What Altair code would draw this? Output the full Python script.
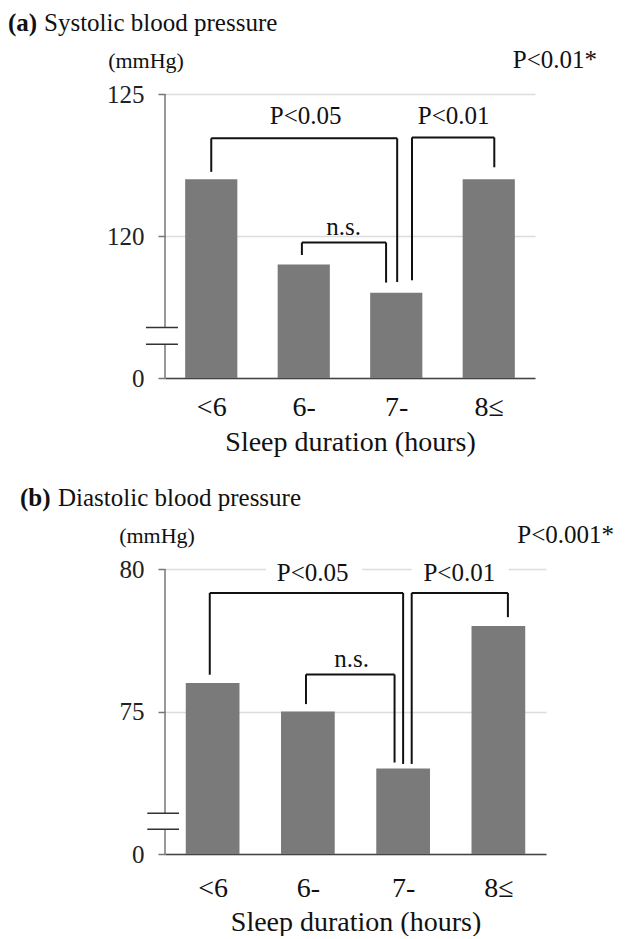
import json
import altair as alt
import pandas as pd

# ---- data ----
categories = ["<6", "6-", "7-", "8≤"]
sbp_values = [122.0, 119.0, 118.0, 122.0]
dbp_values = [76.0, 75.0, 73.0, 78.0]

overall_p = ["P<0.01*", "P<0.001*"]

# brackets: left x, right x, top y, left-leg bottom y, right-leg bottom y (data units)
sbp_brackets = {
    "xl": [0.00, 2.17, 0.98],
    "xr": [2.01, 3.06, 1.89],
    "yt": [123.44, 123.47, 119.77],
    "ylb": [122.26, 118.44, 119.33],
    "yrb": [118.38, 122.42, 118.36],
}
sbp_labels = {"text": ["P<0.05", "P<0.01", "n.s."],
              "x": [1.02, 2.62, 1.43], "y": [124.22, 124.22, 120.32]}

dbp_brackets = {
    "xl": [-0.03, 2.09, 0.98],
    "xr": [2.00, 3.10, 1.91],
    "yt": [79.16, 79.16, 76.30],
    "ylb": [76.29, 73.16, 75.26],
    "yrb": [73.16, 78.31, 73.21],
}
dbp_labels = {"text": ["P<0.05", "P<0.01", "n.s."],
              "x": [1.05, 2.59, 1.46], "y": [79.86, 79.86, 76.84]}
dbp_boxes = {"x": [0.56, 2.09], "x2": [1.57, 3.11], "y": [80.35, 80.35], "y2": [79.40, 79.40]}

FONT = "Liberation Serif"
label_expr_x = json.dumps(categories) + "[datum.value]"


def panel(values, lo, mid, hi, brackets, labels, boxes, break_y, break_x,
          width, height, letter, name, p_text, title_x, name_x, mm_x, p_x,
          x_label_pad, x_title_pad):
    df = pd.DataFrame({"cat": categories, "idx": list(range(len(categories))), "v": values})
    xs = alt.Scale(domain=[-0.5, 3.5], nice=False, zero=False)
    ys = alt.Scale(domain=[lo, hi], nice=False, zero=False)

    bars = alt.Chart(df).transform_calculate(
        x0="datum.idx - 0.282", x1="datum.idx + 0.282"
    ).mark_bar(color="#7a7a7a").encode(
        x=alt.X("x0:Q", scale=xs, axis=alt.Axis(
            values=[0, 1, 2, 3], labelExpr=label_expr_x, ticks=False, tickSize=0,
            grid=False, domainColor="#444", domainWidth=1.5,
            labelFont=FONT, labelFontSize=28, labelColor="#111", labelPadding=x_label_pad,
            title="Sleep duration (hours)", titleFont=FONT, titleFontSize=28,
            titleFontWeight="normal", titleColor="#111", titlePadding=x_title_pad)),
        x2="x1:Q",
        y=alt.Y("v:Q", scale=ys, axis=alt.Axis(
            values=[lo, mid, hi], labelExpr=f"datum.value == {lo} ? '0' : datum.label",
            domain=False, tickSize=7, tickColor="#777", tickWidth=1.5,
            grid=True, gridColor="#dcdcdc", gridWidth=1.5,
            labelFont=FONT, labelFontSize=25, labelColor="#222", labelPadding=14,
            title=None)),
        y2=alt.datum(lo),
    )

    # y axis line drawn in two pieces with a gap (broken axis)
    seg = pd.DataFrame({"a": [hi, break_y[1]], "b": [break_y[0], lo]})
    axis_line = alt.Chart(seg).mark_rule(color="#777", strokeWidth=1.5).encode(
        x=alt.datum(-0.5), y=alt.Y("a:Q", scale=ys), y2="b:Q")
    brk = pd.DataFrame({"y": list(break_y)})
    breaks = alt.Chart(brk).mark_rule(color="#333", strokeWidth=1.5).encode(
        x=alt.datum(break_x[0]), x2=alt.datum(break_x[1]), y=alt.Y("y:Q", scale=ys))

    bdf = pd.DataFrame(brackets)
    base_b = alt.Chart(bdf).mark_rule(color="#111", strokeWidth=2)
    top = base_b.encode(x=alt.X("xl:Q", scale=xs), x2="xr:Q", y=alt.Y("yt:Q", scale=ys))
    left = base_b.encode(x=alt.X("xl:Q", scale=xs), y=alt.Y("yt:Q", scale=ys), y2="ylb:Q")
    right = base_b.encode(x=alt.X("xr:Q", scale=xs), y=alt.Y("yt:Q", scale=ys), y2="yrb:Q")

    layers = [bars, axis_line, breaks, top, left, right]
    if boxes is not None:
        layers.append(alt.Chart(pd.DataFrame(boxes)).mark_rect(color="white").encode(
            x=alt.X("x:Q", scale=xs), x2="x2:Q", y=alt.Y("y:Q", scale=ys), y2="y2:Q"))

    ldf = pd.DataFrame(labels)
    layers.append(alt.Chart(ldf).mark_text(font=FONT, fontSize=25, color="#111",
                                           baseline="middle").encode(
        x=alt.X("x:Q", scale=xs), y=alt.Y("y:Q", scale=ys), text="text:N"))

    # panel heading and units
    layers.append(alt.Chart(pd.DataFrame({"t": [letter]})).mark_text(
        font=FONT, fontSize=25, fontWeight="bold", color="#111", align="left",
        baseline="middle").encode(x=alt.value(title_x), y=alt.value(-71), text="t:N"))
    layers.append(alt.Chart(pd.DataFrame({"t": [name]})).mark_text(
        font=FONT, fontSize=25, color="#111", align="left",
        baseline="middle").encode(x=alt.value(name_x), y=alt.value(-71), text="t:N"))
    layers.append(alt.Chart(pd.DataFrame({"t": ["(mmHg)"]})).mark_text(
        font=FONT, fontSize=22, color="#111", align="center",
        baseline="middle").encode(x=alt.value(mm_x), y=alt.value(-33), text="t:N"))
    layers.append(alt.Chart(pd.DataFrame({"t": [p_text]})).mark_text(
        font=FONT, fontSize=25, color="#111", align="right",
        baseline="middle").encode(x=alt.value(p_x), y=alt.value(-34), text="t:N"))

    return alt.layer(*layers).properties(width=width, height=height)


pa = panel(sbp_values, 115, 120, 125, sbp_brackets, sbp_labels, None,
           (116.78, 116.19), (-0.706, -0.36), 370, 284,
           "(a)", "Systolic blood pressure", overall_p[0],
           -157, -121, -19, 432, 15, 7)
pb = panel(dbp_values, 70, 75, 80, dbp_brackets, dbp_labels, dbp_boxes,
           (71.43, 70.87), (-0.686, -0.353), 381, 285,
           "(b)", "Diastolic blood pressure", overall_p[1],
           -145, -107, -8, 449, 20, 6)

chart = alt.vconcat(pa, pb, spacing=30).properties(
    padding={"left": 0, "top": 3, "right": 0, "bottom": 0}
).configure_view(stroke=None).configure_concat(spacing=30)

chart.save("out.html", embed_options={"renderer": "svg", "actions": False})
